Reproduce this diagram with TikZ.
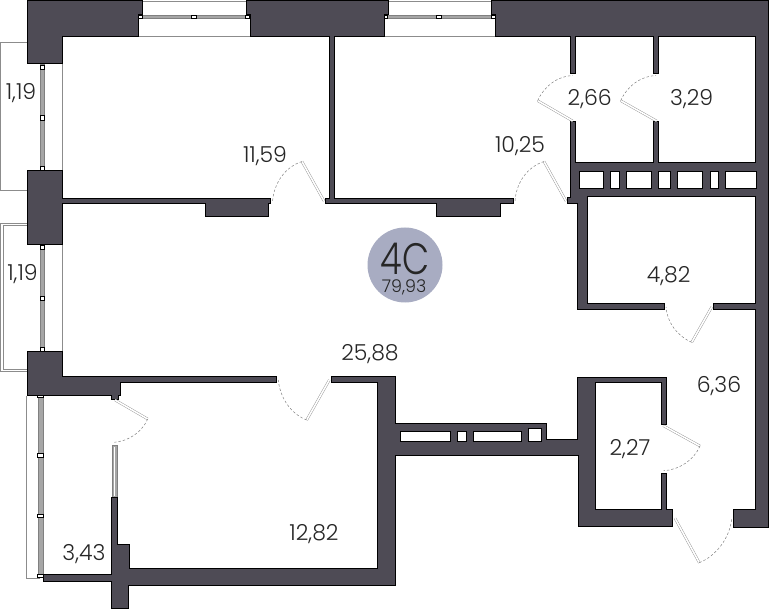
\documentclass[tikz,border=0pt]{standalone}
\usepackage{fontspec}
\setmainfont{Poppins Light}
\usepackage{xcolor}
\definecolor{wallcol}{HTML}{4E4B55}
\definecolor{plancol}{HTML}{A8ACC2}

\begin{document}
\begin{tikzpicture}[x=1pt, y=-1pt]
\tikzset{
    mywall/.style={draw=black, fill=wallcol, line width=1pt, line join=miter},
    myhole/.style={draw=black, fill=white, line width=1pt},
    myrail/.style={draw=black!45, line width=0.9pt},
    myglass/.style={draw=black!50, fill=black!35, line width=0.6pt},
    mypost/.style={draw=black, fill=white, line width=0.5pt},
    myleaf/.style={draw=black!45, double=white, double distance=1.6pt, line width=0.4pt},
    myswing/.style={draw=black!50, dash pattern=on 2.5pt off 2pt, line width=0.5pt},
    myarea/.style={font=\fontsize{22}{26}\selectfont, text=black!85, inner sep=0pt}
}
\useasboundingbox (0,0) rectangle (770,609);

% balconies
\draw[myrail] (27,42.5) -- (0.7,42.5) -- (0.7,190.5) -- (27,190.5);
\draw[myrail] (27,223) -- (0.7,223) -- (0.7,371.5) -- (27,371.5);
\draw[myrail] (27,225.5) -- (3,225.5) -- (3,369) -- (27,369);
\draw[myrail] (26.7,395.7) -- (26.7,578) -- (40,578);
\draw[myrail, line width=0.6pt] (62.3,64) -- (62.3,171);
\draw[myrail, line width=0.6pt] (62.3,245) -- (62.3,351.7);
\draw[myrail, line width=0.6pt] (142,1) -- (246,1);
\draw[myrail, line width=0.6pt] (388,1) -- (491,1);
\draw[myrail, line width=0.6pt] (138,36.5) -- (250,36.5);
\draw[myrail, line width=0.6pt] (384,36.5) -- (495,36.5);

% windows
\draw[myglass] (139,15) rectangle (249,18.5);
\draw[myglass] (384,15) rectangle (495,18.5);
\draw[myglass] (40.5,64) rectangle (44.5,171);
\draw[myglass] (40.5,245) rectangle (44.5,351.7);
\draw[myglass] (38.5,395.7) rectangle (43.5,575);
\draw[myglass] (112,445) rectangle (117.7,498);
\draw[draw=white, line width=0.8pt] (114.8,447) -- (114.8,496);
\draw[mypost] (138.5,15) rectangle (142.5,18.5);
\draw[mypost] (191.5,15) rectangle (196.5,18.5);
\draw[mypost] (245,15) rectangle (249,18.5);
\draw[mypost] (383.5,15) rectangle (387.5,18.5);
\draw[mypost] (436.5,15) rectangle (441.5,18.5);
\draw[mypost] (491,15) rectangle (495,18.5);
\draw[mypost] (40.5,65) rectangle (44.5,69);
\draw[mypost] (40.5,115.5) rectangle (44.5,120);
\draw[mypost] (40.5,166) rectangle (44.5,170.5);
\draw[mypost] (40.5,245.5) rectangle (44.5,249.5);
\draw[mypost] (40.5,296) rectangle (44.5,300.5);
\draw[mypost] (40.5,347) rectangle (44.5,351);
\draw[mypost] (37.5,394) rectangle (43.5,397.5);
\draw[mypost] (37.5,453.5) rectangle (43.5,457);
\draw[mypost] (37.5,514) rectangle (43.5,517.5);
\draw[mypost] (37.5,574) rectangle (43.5,577.5);

% walls
\draw[mywall] (27,1) -- (142,1) -- (142,15) -- (138,15) -- (138,36.5) -- (62,36.5) -- (62,64) -- (27,64) -- cycle;
\draw[mywall] (27,171) -- (62,171) -- (62,198.3) -- (270.5,198.3) -- (270.5,204) -- (268.7,204) -- (268.7,216.7) -- (205,216.7) -- (205,204) -- (62,204) -- (62,245) -- (27,245) -- cycle;
\draw[mywall] (246,1) -- (388,1) -- (388,15) -- (384,15) -- (384,36.5) -- (334.3,36.5) -- (334.3,198.3) -- (513.3,198.3) -- (513.3,204) -- (500.7,204) -- (500.7,216.7) -- (436.7,216.7) -- (436.7,204) -- (325,204) -- (325,198.3) -- (329.3,198.3) -- (329.3,36.5) -- (250,36.5) -- (250,15) -- (246,15) -- cycle;
\draw[mywall] (27,351.7) -- (62,351.7) -- (62,376.7) -- (276.7,376.7) -- (276.7,382.7) -- (120.7,382.7) -- (120.7,395.7) -- (118.3,395.7) -- (118.3,399.3) -- (111.7,399.3) -- (111.7,395.7) -- (27,395.7) -- cycle;
\draw[mywall] (491,1) -- (768,1) -- (768,527.5) -- (733,527.5) -- (733,509) -- (755.7,509) -- (755.7,309) -- (713,309) -- (713,303.5) -- (755.7,303.5) -- (755.7,197) -- (587,197) -- (587,303.5) -- (664,303.5) -- (664,309) -- (577.5,309) -- (577.5,204) -- (567,204) -- (567,198) -- (570,198) -- (570,122) -- (575.7,122) -- (575.7,163) -- (653.3,163) -- (653.3,122) -- (658.7,122) -- (658.7,163) -- (755.7,163) -- (755.7,36.5) -- (658.7,36.5) -- (658.7,73.5) -- (653.3,73.5) -- (653.3,36.5) -- (575.7,36.5) -- (575.7,73.5) -- (570,73.5) -- (570,36.5) -- (495,36.5) -- (495,15) -- (491,15) -- cycle;
\draw[mywall] (331,376.7) -- (395,376.7) -- (395,423.3) -- (546,423.3) -- (546,439.3) -- (577.3,439.3) -- (577.3,377) -- (666.7,377) -- (666.7,424) -- (661.7,424) -- (661.7,382.7) -- (595,382.7) -- (595,509) -- (661.7,509) -- (661.7,473.3) -- (666.7,473.3) -- (666.7,509) -- (672.3,509) -- (672.3,526) -- (578.3,526) -- (578.3,455.7) -- (395,455.7) -- (395,585) -- (128.7,585) -- (128.7,608.3) -- (111.3,608.3) -- (111.3,581) -- (43.3,581) -- (43.3,574.3) -- (111.3,574.3) -- (111.3,497.7) -- (117.7,497.7) -- (117.7,544.3) -- (129.7,544.3) -- (129.7,568.7) -- (377.3,568.7) -- (377.3,382.7) -- (331,382.7) -- cycle;

% shafts
\draw[myhole] (579,172) rectangle (603.3,188.3);
\draw[myhole] (610.7,172) rectangle (619,188.3);
\draw[myhole] (626.7,172) rectangle (651,188.3);
\draw[myhole] (658.7,172) rectangle (670.7,188.3);
\draw[myhole] (677.7,172) rectangle (702.3,188.3);
\draw[myhole] (710,172) rectangle (718.3,188.3);
\draw[myhole] (725.7,172) rectangle (756.3,188.3);
\draw[myhole] (400.7,431.7) rectangle (450,441);
\draw[myhole] (457.3,431.7) rectangle (466,441);
\draw[myhole] (473,431.7) rectangle (521.7,441);
\draw[myhole] (528.7,428) rectangle (541.7,441);

% doors
\draw[myleaf] (324,201) -- (302,161.5);
\draw[myswing] (302,161.5) .. controls (285,167) and (274,183) .. (272.5,201.5);
\draw[myleaf] (566,201) -- (544,161.5);
\draw[myswing] (544,161.5) .. controls (527,167) and (516,183) .. (515,201.5);
\draw[myleaf] (572.7,121) -- (537.7,100.7);
\draw[myswing] (537.7,100.7) .. controls (544,86) and (558,76) .. (572.7,75.5);
\draw[myleaf] (656.7,121) -- (620.7,100.7);
\draw[myswing] (620.7,100.7) .. controls (627,86) and (641,76) .. (656,75.5);
\draw[myleaf] (711.7,307) -- (691.7,342.3);
\draw[myswing] (691.7,342.3) .. controls (677,336) and (667,322) .. (666,307);
\draw[myleaf] (329.3,380) -- (306.7,420);
\draw[myswing] (306.7,420) .. controls (291,414) and (280,398) .. (278.3,380);
\draw[myleaf] (115,400) -- (147.7,419);
\draw[myswing] (147.7,419) .. controls (142,432) and (129,441) .. (114.3,442.3);
\draw[myleaf] (663.3,425.7) -- (700,446);
\draw[myswing] (700,446) .. controls (694,460) and (679,470) .. (663.7,470.7);
\draw[myleaf] (675,518.3) -- (699.3,562.7);
\draw[myswing] (699.3,562.7) .. controls (716,556) and (730,538) .. (731.7,518.3);

% flat badge
\node[circle, fill=plancol, minimum size=75pt, inner sep=0pt] (badge) at (405,265) {};
\node[font=\fontsize{44}{48}\selectfont, text=black!85, inner sep=0pt] (flat) at (405,259) {\scalebox{0.8}[1]{4C}};
\node[font=\fontsize{17.5}{20}\selectfont, text=black!85, inner sep=0pt] (total) at (404,287) {79,93};

% areas
\node[myarea] (balcony1) at (21,93.5) {1,19};
\node[myarea] (balcony2) at (22.5,274.5) {1,19};
\node[myarea] (bedroom1) at (265,156.5) {11,59};
\node[myarea] (bedroom2) at (520,146.5) {10,25};
\node[myarea] (bath1) at (589.7,99.5) {2,66};
\node[myarea] (bath2) at (691.7,99.5) {3,29};
\node[myarea] (closet) at (668.7,276.5) {4,82};
\node[myarea] (living) at (370,354.5) {25,88};
\node[myarea] (hall) at (719,386) {6,36};
\node[myarea] (store) at (630,449.5) {2,27};
\node[myarea] (loggia) at (84,554) {3,43};
\node[myarea] (bedroom3) at (314,534.5) {12,82};

\end{tikzpicture}
\end{document}
